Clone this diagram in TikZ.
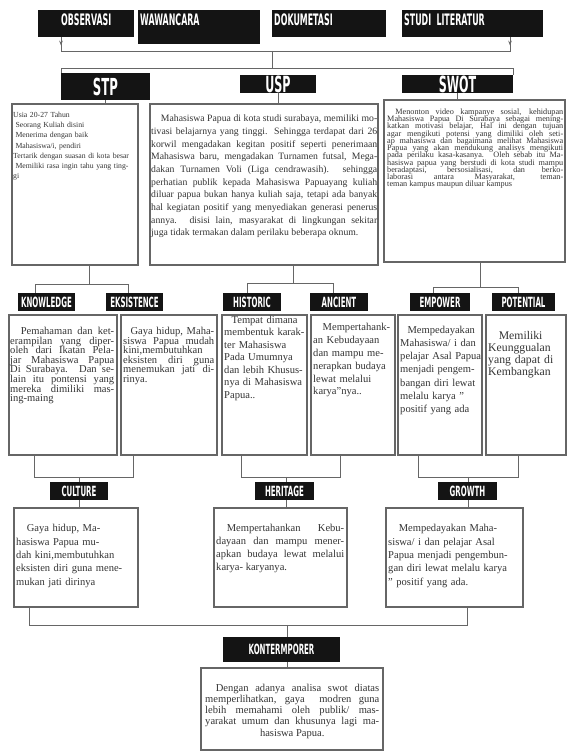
\documentclass[tikz,border=0pt]{standalone}
\usepackage{fontspec}
\setmainfont{Liberation Serif}
\newfontfamily\labelfont[FakeStretch=0.5]{DejaVu Sans}
\usetikzlibrary{arrows.meta}
\tikzset{
  topbox/.style={anchor=north west, fill=black!92, text=white, font=\labelfont\bfseries\fontsize{13.5}{13.5}\selectfont, inner xsep=0.06cm, inner ysep=0.03cm, text height=0.42cm, align=left},
  tagbox/.style={fill=black!92, text=white, font=\labelfont\bfseries\fontsize{12}{12}\selectfont, inner sep=0pt},
  bigtag/.style={tagbox, font=\labelfont\bfseries\fontsize{19}{19}\selectfont},
  boxframe/.style={draw=black!60, line width=0.9pt, inner sep=0pt},
  body/.style={anchor=north west, inner sep=0pt, align=justify, text=black!80, execute at begin node={\lineskiplimit=-6pt}},
  wire/.style={draw=black!60, line width=0.8pt},
  arrowline/.style={wire, -{Stealth[length=4pt,width=3pt]}},
}
\begin{document}
\begin{tikzpicture}
            \useasboundingbox (0,0) rectangle (17.280000,22.650000);%

            % Source boxes on top
            \node[topbox, align=center, text width=2.760000cm, text depth=0.330000cm] (obs) at (1.140000,22.350000) {OBSERVASI};%
            \node[topbox, text width=3.540000cm, text depth=0.540000cm] (waw) at (4.140000,22.350000) {WAWANCARA};%
            \node[topbox, text width=3.300000cm, text depth=0.330000cm] (dok) at (8.160000,22.350000) {DOKUMETASI};%
            \node[topbox, text width=4.110000cm, text depth=0.330000cm] (stu) at (12.060000,22.350000) {STUDI LITERATUR};%

            % Method labels
            \node[bigtag, font=\labelfont\bfseries\fontsize{20}{20}\selectfont, minimum width=2.670000cm, minimum height=0.810000cm] (stp) at (3.165000,20.055000) {STP};%
            \node[bigtag, minimum width=2.280000cm, minimum height=0.540000cm] (usp) at (8.340000,20.130000) {USP};%
            \node[bigtag, minimum width=3.330000cm, minimum height=0.540000cm] (swot) at (13.725000,20.130000) {SWOT};%

            % Joining sources to methods
            \coordinate (obsFoot) at (1.830000,21.120000);%
            \coordinate (stuFoot) at (15.300000,21.120000);%
            \coordinate (srcMid) at (8.160000,21.120000);%
            \coordinate (splitMid) at (8.160000,20.610000);%
            \coordinate (splitL) at (1.830000,20.610000);%
            \coordinate (splitR) at (15.390000,20.610000);%
            \draw[wire] (obs.south -| obsFoot) -- (obsFoot) -- (stuFoot) -- (stu.south -| stuFoot);%
            \draw[arrowline] (obs.south -| obsFoot) -- ++(0,-0.240000);%
            \draw[arrowline] (stu.south -| stuFoot) -- ++(0,-0.240000);%
            \draw[wire] (srcMid) -- (splitMid);%
            \draw[wire] (stp.north -| splitL) -- (splitL) -- (splitR) -- (swot.north -| splitR);%

            % Drawing the three method boxes
            \node[boxframe, minimum width=3.780000cm, minimum height=4.830000cm] (stpBox) at (2.250000,17.115000) {};%
            \node[boxframe, minimum width=6.840000cm, minimum height=4.830000cm] (uspBox) at (7.920000,17.115000) {};%
            \node[boxframe, minimum width=5.430000cm, minimum height=4.860000cm] (swotBox) at (14.235000,17.220000) {};%
            \draw[wire] (stp.south) -- (stpBox.north -| stp.south);%
            \draw[wire] (usp.south) -- (uspBox.north -| usp.south);%
            \draw[wire] (swot.south) -- (swotBox.north -| swot.south);%

            \node[body, align=left, text width=3.700000cm, font=\fontsize{6.6}{8.7}\selectfont] (stpText) at (0.390000,19.290000) {Usia 20-27 Tahun\\
              \hspace*{0.3em}Seorang Kuliah disini\\
              \hspace*{0.3em}Menerima dengan baik\\
              \hspace*{0.3em}Mahasiswa/i, pendiri\\
              Tertarik dengan suasan di kota besar\\
              \hspace*{0.3em}Memiliki rasa ingin tahu yang ting-\\
              gi};%
            \node[body, text width=6.780000cm, font=\fontsize{8.3}{10.8}\selectfont\sloppy] (uspText) at (4.530000,19.200000) {\hspace*{1em}Mahasiswa Papua di kota studi surabaya, memiliki mo-\linebreak
              tivasi belajarnya yang tinggi. Sehingga terdapat dari 26\linebreak
              korwil mengadakan kegitan positif seperti penerimaan\linebreak
              Mahasiswa baru, mengadakan Turnamen futsal, Mega-\linebreak
              dakan Turnamen Voli (Liga cendrawasih). sehingga\linebreak
              perhatian publik kepada Mahasiswa Papuayang kuliah\linebreak
              diluar papua bukan hanya kuliah saja, tetapi ada banyak\linebreak
              hal kegiatan positif yang menyediakan generasi penerus\linebreak
              annya. disisi lain, masyarakat di lingkungan sekitar\linebreak
              juga tidak termakan dalam perilaku beberapa oknum.};%
            \node[body, text width=5.280000cm, font=\fontsize{7}{6.2}\selectfont\sloppy] (swotText) at (11.610000,19.400000) {\parfillskip=0pt
              \hspace*{1em}Menonton video kampanye sosial, kehidupan\linebreak
              Mahasiswa Papua Di Surabaya sebagai mening-\linebreak
              katkan motivasi belajar, Hal ini dengan tujuan\linebreak
              agar mengikuti potensi yang dimiliki oleh seti-\linebreak
              ap mahasiswa dan bagaimana melihat Mahasiswa\linebreak
              Papua yang akan mendukung analisys mengikuti\linebreak
              pada perilaku kasa-kasanya. Oleh sebab itu Ma-\linebreak
              hasiswa papua yang berstudi di kota studi mampu\linebreak
              beradaptasi, bersosialisasi, dan berko-\linebreak
              laborasi antara Masyarakat, teman-\linebreak
              teman kampus maupun diluar kampus};%

            % Splitting STP, USP and SWOT
            \coordinate (stpSplit) at (2.670000,14.130000);%
            \coordinate (knowLeg) at (1.050000,14.130000);%
            \coordinate (eksLeg) at (3.840000,14.130000);%
            \coordinate (uspSplit) at (8.790000,14.160000);%
            \coordinate (histLeg) at (7.410000,14.160000);%
            \coordinate (ancLeg) at (9.990000,14.160000);%
            \coordinate (swotSplit) at (14.400000,14.040000);%
            \coordinate (empLeg) at (12.990000,14.040000);%
            \coordinate (potLeg) at (15.540000,14.040000);%

            \node[tagbox, minimum width=1.710000cm, minimum height=0.540000cm] (knowledge) at (1.395000,13.590000) {KNOWLEDGE};%
            \node[tagbox, minimum width=1.710000cm, minimum height=0.540000cm] (eksistence) at (4.035000,13.590000) {EKSISTENCE};%
            \node[tagbox, minimum width=1.740000cm, minimum height=0.540000cm] (historic) at (7.560000,13.590000) {HISTORIC};%
            \node[tagbox, minimum width=1.740000cm, minimum height=0.540000cm] (ancient) at (10.170000,13.590000) {ANCIENT};%
            \node[tagbox, minimum width=1.800000cm, minimum height=0.540000cm] (empower) at (13.200000,13.590000) {EMPOWER};%
            \node[tagbox, minimum width=1.890000cm, minimum height=0.540000cm] (potential) at (15.705000,13.590000) {POTENTIAL};%

            \draw[wire] (stpBox.south -| stpSplit) -- (stpSplit);%
            \draw[wire] (knowledge.north -| knowLeg) -- (knowLeg) -- (eksLeg) -- (eksistence.north -| eksLeg);%
            \draw[wire] (uspBox.south -| uspSplit) -- (uspSplit);%
            \draw[wire] (historic.north -| histLeg) -- (histLeg) -- (ancLeg) -- (ancient.north -| ancLeg);%
            \draw[wire] (swotBox.south -| swotSplit) -- (swotSplit);%
            \draw[wire] (empower.north -| empLeg) -- (empLeg) -- (potLeg) -- (potential.north -| potLeg);%

            % Drawing the six middle boxes
            \node[boxframe, minimum width=3.240000cm, minimum height=4.200000cm] (knowBox) at (1.890000,11.100000) {};%
            \node[boxframe, minimum width=2.880000cm, minimum height=4.200000cm] (eksBox) at (5.070000,11.100000) {};%
            \node[boxframe, minimum width=2.550000cm, minimum height=4.200000cm] (histBox) at (7.935000,11.100000) {};%
            \node[boxframe, minimum width=2.520000cm, minimum height=4.200000cm] (ancBox) at (10.590000,11.100000) {};%
            \node[boxframe, minimum width=2.520000cm, minimum height=4.200000cm] (empBox) at (13.200000,11.100000) {};%
            \node[boxframe, minimum width=2.400000cm, minimum height=4.200000cm] (potBox) at (15.780000,11.100000) {};%

            \node[body, text width=3.120000cm, font=\fontsize{9}{8.2}\selectfont\sloppy] (knowText) at (0.300000,12.840000) {\hspace*{1em}Pemahaman dan ket-\linebreak
              erampilan yang diper-\linebreak
              oleh dari Ikatan Pela-\linebreak
              jar Mahasiswa Papua\linebreak
              Di Surabaya. Dan se-\linebreak
              lain itu pontensi yang\linebreak
              mereka dimiliki mas-\linebreak
              ing-maing};%
            \node[body, text width=2.730000cm, font=\fontsize{9}{8.2}\selectfont\sloppy] (eksText) at (3.690000,12.840000) {\hspace*{0.7em}Gaya hidup, Maha-\linebreak
              siswa Papua mudah\linebreak
              kini,membutuhkan\linebreak
              eksisten diri guna\linebreak
              menemukan jati di-\linebreak
              rinya.};%
            \node[body, align=left, text width=2.490000cm, font=\fontsize{9}{10.6}\selectfont] (histText) at (6.720000,13.170000) {\hspace*{0.7em}Tempat dimana\\
              membentuk karak-\\
              ter Mahasiswa\\
              Pada Umumnya\\
              dan lebih Khusus-\\
              nya di Mahasiswa\\
              Papua..};%
            \node[body, align=left, text width=2.400000cm, font=\fontsize{9}{11}\selectfont] (ancText) at (9.390000,12.960000) {\hspace*{0.9em}Mempertahank-\\
              an Kebudayaan\\
              dan mampu me-\\
              nerapkan budaya\\
              lewat melalui\\
              karya''nya..};%
            \node[body, align=left, text width=2.430000cm, font=\fontsize{9}{11.2}\selectfont] (empText) at (12.000000,12.870000) {\hspace*{0.7em}Mempedayakan\\
              Mahasiswa/ i dan\\
              pelajar Asal Papua\\
              menjadi pengem-\\
              bangan diri lewat\\
              melalu karya ''\\
              positif yang ada};%
            \node[body, align=left, text width=2.280000cm, font=\fontsize{10}{10.2}\selectfont] (potText) at (14.640000,12.720000) {\hspace*{0.9em}Memiliki\\
              Keunggualan\\
              yang dapat di\\
              Kembangkan};%

            % Joining the middle boxes
            \coordinate (cultL) at (1.020000,8.340000);%
            \coordinate (cultR) at (3.990000,8.340000);%
            \coordinate (cultMid) at (2.370000,8.340000);%
            \coordinate (herL) at (7.230000,8.340000);%
            \coordinate (herR) at (10.200000,8.340000);%
            \coordinate (herMid) at (8.580000,8.340000);%
            \coordinate (growL) at (12.540000,8.340000);%
            \coordinate (growR) at (15.540000,8.340000);%
            \coordinate (growMid) at (14.040000,8.340000);%

            \node[tagbox, minimum width=1.740000cm, minimum height=0.540000cm] (culture) at (2.370000,7.920000) {CULTURE};%
            \node[tagbox, minimum width=1.770000cm, minimum height=0.540000cm] (heritage) at (8.535000,7.920000) {HERITAGE};%
            \node[tagbox, minimum width=1.770000cm, minimum height=0.540000cm] (growth) at (14.025000,7.920000) {GROWTH};%

            \node[boxframe, minimum width=3.720000cm, minimum height=2.970000cm] (cultBox) at (2.280000,5.925000) {};%
            \node[boxframe, minimum width=3.990000cm, minimum height=2.970000cm] (herBox) at (8.415000,5.925000) {};%
            \node[boxframe, minimum width=4.110000cm, minimum height=2.970000cm] (growBox) at (13.635000,5.925000) {};%

            \draw[wire] (knowBox.south -| cultL) -- (cultL) -- (cultR) -- (eksBox.south -| cultR);%
            \draw[wire] (cultMid) -- (culture.north -| cultMid);%
            \draw[wire] (culture.south -| cultMid) -- (cultBox.north -| cultMid);%
            \draw[wire] (histBox.south -| herL) -- (herL) -- (herR) -- (ancBox.south -| herR);%
            \draw[wire] (herMid) -- (heritage.north -| herMid);%
            \draw[wire] (heritage.south -| herMid) -- (herBox.north -| herMid);%
            \draw[wire] (empBox.south -| growL) -- (growL) -- (growR) -- (potBox.south -| growR);%
            \draw[wire] (growMid) -- (growth.north -| growMid);%
            \draw[wire] (growth.south -| growMid) -- (growBox.north -| growMid);%

            \node[body, align=left, text width=3.240000cm, font=\fontsize{9}{11.5}\selectfont] (cultText) at (0.480000,6.930000) {\hspace*{1em}Gaya hidup, Ma-\\
              hasiswa Papua mu-\\
              dah kini,membutuhkan\\
              eksisten diri guna mene-\\
              mukan jati dirinya};%
            \node[body, text width=3.840000cm, font=\fontsize{9}{11}\selectfont\sloppy] (herText) at (6.480000,6.930000) {\hspace*{1em}Mempertahankan Kebu-\linebreak
              dayaan dan mampu mener-\linebreak
              apkan budaya lewat melalui\linebreak
              karya- karyanya.};%
            \node[body, align=left, text width=3.780000cm, font=\fontsize{9}{11.5}\selectfont] (growText) at (11.640000,6.930000) {\hspace*{1em}Mempedayakan Maha-\\
              siswa/ i dan pelajar Asal\\
              Papua menjadi pengembun-\\
              gan diri lewat melalu karya\\
              '' positif yang ada.};%

            % Closing bracket to KONTERMPORER
            \coordinate (endL) at (0.870000,3.900000);%
            \coordinate (endR) at (14.010000,3.900000);%
            \coordinate (endMid) at (8.610000,3.900000);%
            \node[tagbox, minimum width=3.510000cm, minimum height=0.750000cm] (kont) at (8.445000,3.165000) {KONTERMPORER};%
            \node[boxframe, minimum width=5.460000cm, minimum height=2.460000cm] (kontBox) at (8.760000,1.380000) {};%
            \draw[wire] (cultBox.south -| endL) -- (endL) -- (endR) -- (growBox.south -| endR);%
            \draw[wire] (endMid) -- (kont.north -| endMid);%
            \draw[wire] (kont.south -| endMid) -- (kontBox.north -| endMid);%

            \node[body, text width=5.220000cm, font=\fontsize{9}{9.5}\selectfont\sloppy] (kontText) at (6.150000,2.130000) {\parfillskip=0pt
              \hspace*{1em}Dengan adanya analisa swot diatas\linebreak
              memperlihatkan, gaya\ \ modren guna\linebreak
              lebih memahami oleh publik/ mas-\linebreak
              yarakat umum dan khusunya lagi ma-\linebreak
              \hspace*{\fill}hasiswa Papua.\hspace*{\fill}};%
        \end{tikzpicture}
\end{document}
